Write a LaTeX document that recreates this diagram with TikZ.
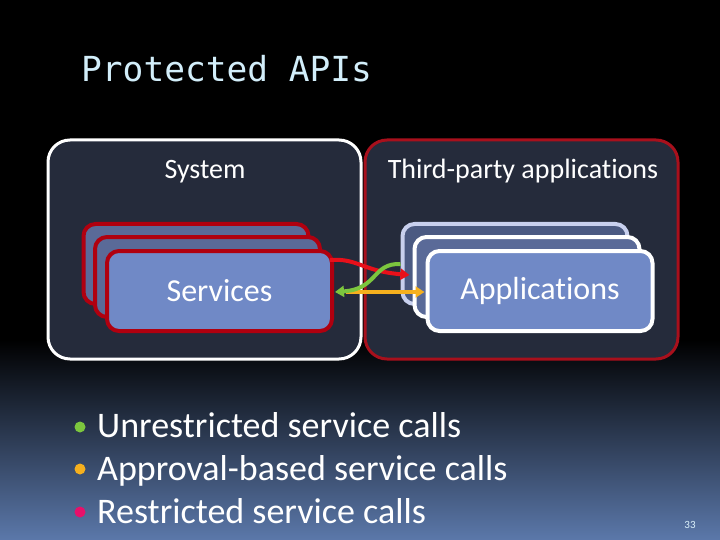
\documentclass[tikz,border=0pt]{standalone}
\usepackage{fontspec}
\setmainfont{Carlito}[Ligatures={NoCommon,NoRequired,NoContextual}]
\newfontfamily\titlefont{DejaVu Sans Mono}
\usetikzlibrary{arrows.meta}
\definecolor{panel}{HTML}{252B3B}
\definecolor{frame}{HTML}{A8101C}
\definecolor{srvred}{HTML}{B0000F}
\definecolor{boxfront}{HTML}{7089C6}
\definecolor{boxback}{HTML}{5A6A98}
\definecolor{appback}{HTML}{4B5A82}
\definecolor{applav}{HTML}{C8D0EE}
\definecolor{titlecol}{HTML}{D2EEFA}
\definecolor{grn}{HTML}{7CC63E}
\definecolor{org}{HTML}{F6B01E}
\definecolor{rd}{HTML}{E8101A}
\definecolor{pnk}{HTML}{E8106A}
\definecolor{bottomblue}{HTML}{5B78AA}
\tikzset{
  panelbox/.style={rounded corners=22pt, line width=3pt, fill=panel, minimum width=313pt, minimum height=219pt, inner sep=0pt},
  card/.style={rounded corners=12pt, line width=4pt, minimum width=225pt, minimum height=80pt, inner sep=0pt, text=white, font=\fontsize{32}{36}\selectfont},
  hdr/.style={text=white, font=\fontsize{28}{32}\selectfont, anchor=base, inner sep=0pt},
  bullettext/.style={text=white, font=\fontsize{36}{40}\selectfont, anchor=base west, inner sep=0pt},
  dot/.style={circle, minimum size=11pt, inner sep=0pt},
  callarrow/.style={line width=4pt, -{Triangle[length=9pt,width=11pt]}}
}
\begin{document}
\begin{tikzpicture}[x=1pt,y=-1pt]
\useasboundingbox (0,0) rectangle (720,540);
\fill[black] (0,0) rectangle (720,540);
\shade[top color=black, bottom color=bottomblue] (0,340) rectangle (720,540);

\node[anchor=base west, inner sep=0pt, text=titlecol, font=\titlefont\fontsize{34.5}{40}\selectfont] (title) at (81,82) {Protected APIs};

\node[panelbox, draw=white] (sys) at (204.5,249.5) {};
\node[panelbox, draw=frame] (tpa) at (521.5,249.5) {};

\node[hdr] (syslbl) at (205,179) {System};
\node[hdr] (tpalbl) at (523,179) {Third-party applications};

% services stack
\node[card, draw=srvred, fill=boxback] (s3) at (196,264) {};
\node[card, draw=srvred, fill=boxback] (s2) at (207.5,277) {};
\node[card, draw=srvred, fill=boxfront] (s1) at (219.5,291) {Services};

% applications stack
\node[card, draw=applav, fill=appback] (a3) at (515,264) {};
\node[card, draw=white, fill=boxback] (a2) at (527,277) {};
\node[card, draw=white, fill=boxfront] (a1) at (540,291) {Applications};

% connectors (yshift positive = up on the page)
\coordinate (redstart) at ([xshift=-4pt,yshift=31pt]s1.east);
\coordinate (redend) at ([xshift=9pt,yshift=-11pt]a3.west);
\coordinate (grnstart) at ([xshift=-12pt,yshift=13pt]a2.west);
\coordinate (grnend) at ([xshift=1pt,yshift=-1pt]s1.east);
\coordinate (orgstart) at ([xshift=12pt,yshift=-1pt]s1.east);
\coordinate (orgend) at ([xshift=-1pt,yshift=-1pt]a1.west);

\draw[callarrow, org] (orgstart) -- (orgend);
\draw[callarrow, rd] (redstart) .. controls (358,258) and (362,271) .. (redend);
\draw[callarrow, grn] (grnstart) .. controls (372,263) and (378,289) .. (grnend);

% bullets
\node[dot, fill=grn] (d1) at (80,427) {};
\node[dot, fill=org] (d2) at (80,469) {};
\node[dot, fill=pnk] (d3) at (80,512) {};
\node[bullettext] (b1) at (97,437) {Unrestricted service calls};
\node[bullettext] (b2) at (97,480) {Approval-based service calls};
\node[bullettext] (b3) at (97,523) {Restricted service calls};

\node[anchor=base, inner sep=0pt, text=titlecol!80!white, font=\fontsize{11}{12}\selectfont] (pg) at (690,528) {33};
\end{tikzpicture}
\end{document}
